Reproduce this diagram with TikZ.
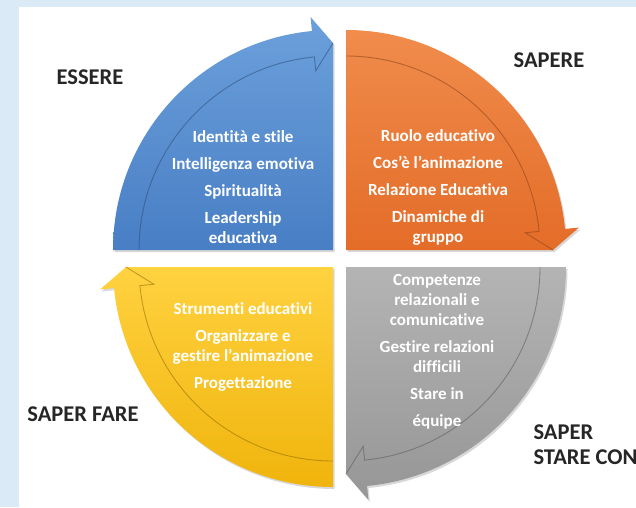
\documentclass[tikz,border=0pt]{standalone}
\usepackage{fontspec}
\setmainfont{Carlito}[Ligatures=NoCommon]
\usetikzlibrary{shadows, positioning}

\definecolor{bgblue}{RGB}{218,234,246}
\definecolor{blueTop}{RGB}{108,160,220}
\definecolor{blueBot}{RGB}{72,126,196}
\definecolor{orangeTop}{RGB}{240,140,76}
\definecolor{orangeBot}{RGB}{228,108,40}
\definecolor{grayTop}{RGB}{180,180,180}
\definecolor{grayBot}{RGB}{150,150,150}
\definecolor{yellowTop}{RGB}{255,210,64}
\definecolor{yellowBot}{RGB}{240,180,12}

\begin{document}
\begin{tikzpicture}[
        x=1pt, y=1pt,
        every node/.style={align=center},
        itemlist/.style={text=white, font=\fontsize{17}{20}\selectfont\bfseries},
        areaname/.style={text=black!85, font=\fontsize{22.5}{25}\selectfont\bfseries},
        quarter/.style={draw=none, drop shadow={opacity=0.3, shadow xshift=1.5pt, shadow yshift=-2pt}},
        innerline/.style={line width=0.9pt, opacity=0.55}
    ]
        \def\rout{220pt}
        \def\rin{194pt}
        \def\rmid{207pt}
        \def\rhin{180pt}
        \def\rhout{234pt}

        % --- Background ---
        \fill[bgblue] (0,0) rectangle (636,507);
        \fill[white] (19,0) rectangle (636,500);
        \useasboundingbox (0,0) rectangle (636,507);

        % --- Quarters (clockwise) ---

        % 1. Essere (top left)
        \begin{scope}[shift={(333,257)}]
            \draw[quarter, top color=blueTop, bottom color=blueBot] (0,0) -- (180:\rout) arc (180:95.5:\rout) -- (95.5:\rhout) -- (90:\rmid) -- cycle;
            \draw[innerline, draw=blueBot!60!black] (180:\rin) arc (180:95.5:\rin) -- (95.5:\rhin) -- (90:\rmid);
        \end{scope}

        % 2. Sapere (top right)
        \begin{scope}[shift={(346,257)}]
            \draw[quarter, top color=orangeTop, bottom color=orangeBot] (0,0) -- (90:\rout) arc (90:5.5:\rout) -- (5.5:\rhout) -- (0:\rmid) -- cycle;
            \draw[innerline, draw=orangeBot!60!black] (90:\rin) arc (90:5.5:\rin) -- (5.5:\rhin) -- (0:\rmid);
        \end{scope}

        % 3. Saper stare con (bottom right)
        \begin{scope}[shift={(346,240)}]
            \draw[quarter, top color=grayTop, bottom color=grayBot] (0,0) -- (0:\rout) arc (0:-84.5:\rout) -- (-84.5:\rhout) -- (-90:\rmid) -- cycle;
            \draw[innerline, draw=grayBot!60!black] (0:\rin) arc (0:-84.5:\rin) -- (-84.5:\rhin) -- (-90:\rmid);
        \end{scope}

        % 4. Saper fare (bottom left)
        \begin{scope}[shift={(333,240)}]
            \draw[quarter, top color=yellowTop, bottom color=yellowBot] (0,0) -- (-90:\rout) arc (-90:-174.5:\rout) -- (-174.5:\rhout) -- (-180:\rmid) -- cycle;
            \draw[innerline, draw=yellowBot!60!black] (-90:\rin) arc (-90:-174.5:\rin) -- (-174.5:\rhin) -- (-180:\rmid);
        \end{scope}

        % --- Contents ---
        \node[itemlist] (essereList) at (243,319.5) {Identità e stile\\[7pt] Intelligenza emotiva\\[7pt] Spiritualità\\[7pt] Leadership\\ educativa};
        \node[itemlist] (sapereList) at (438,320) {Ruolo educativo\\[7pt] Cos’è l’animazione\\[7pt] Relazione Educativa\\[7pt] Dinamiche di\\ gruppo};
        \node[itemlist] (stareList) at (437,155.5) {Competenze\\ relazionali e\\ comunicative\\[7pt] Gestire relazioni\\ difficili\\[7pt] Stare in\\[7pt] équipe};
        \node[itemlist] (fareList) at (243,160) {Strumenti educativi\\[7pt] Organizzare e\\ gestire l’animazione\\[7pt] Progettazione};

        % --- Area names ---
        \node[areaname] (essere) at (90,430) {ESSERE};
        \node[areaname] (sapere) at (549,447) {SAPERE};
        \node[areaname] (saperFare) at (83,93) {SAPER FARE};
        \node[areaname, anchor=west, align=left] (saperStare) at (530,62.5) {SAPER\\ STARE CON};

    \end{tikzpicture}
\end{document}
